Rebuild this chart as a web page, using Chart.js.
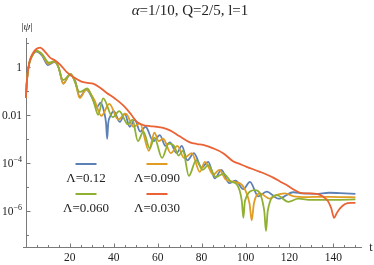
<!DOCTYPE html>
<html>
<head>
<meta charset="utf-8">
<script src="https://cdn.jsdelivr.net/npm/chart.js@4.4.0/dist/chart.umd.min.js"></script>
<style>
html, body { margin: 0; padding: 0; background: #fff; }
#wrap { width: 374px; height: 265px; position: relative; }
</style>
</head>
<body>
<div id="wrap"><canvas id="myChart"></canvas></div>
<script>
// values: t and log10|psi|
const tBlue = [0, 0.6, 1.5, 2.8, 4.8, 7.5, 10, 13, 15, 17, 20, 22.5, 24.5, 27.5, 30.5, 32.2, 34, 35.8, 36.5, 37, 37.5, 38.5, 40, 42.8, 45, 47.3, 49.6, 52, 54.5, 58, 61, 63.5, 65.6, 68.6, 71, 73.5, 76.5, 80, 83, 86, 89, 92.5, 95.5, 99, 102, 105.8, 109.6, 115, 121.7, 126, 132, 138, 143, 150];
const lgBlue = [-1.3, -0.45, 0.12, 0.45, 0.63, 0.45, 0.07, 0.2, -0.05, -0.7, -0.35, -0.6, -1.25, -0.95, -1.35, -1.7, -1.5, -1.95, -2.35, -3.0, -2.35, -2.05, -1.85, -2.3, -1.95, -2.5, -2.2, -2.7, -2.5, -3.1, -2.85, -3.3, -3.15, -3.6, -3.3, -3.9, -3.6, -4.2, -3.96, -4.65, -4.3, -4.85, -4.75, -5.1, -4.8, -5.4, -5.2, -5.5, -5.23, -5.28, -5.3, -5.25, -5.27, -5.3];

const tOrange = [0, 0.6, 1.5, 2.8, 5, 7.5, 10.3, 13, 15, 17, 20, 22.5, 24.5, 27.5, 31, 34.4, 38, 42, 45.5, 49, 51.9, 56, 58.5, 60.5, 62.5, 66, 69, 72, 75.5, 79.2, 81.5, 85.3, 88, 91, 95, 99, 101.8, 102.8, 103.8, 106.6, 111, 114, 117.9, 122, 128, 135, 142, 150];
const lgOrange = [-1.3, -0.45, 0.12, 0.45, 0.66, 0.5, 0.12, 0.22, -0.05, -0.7, -0.33, -0.65, -1.3, -0.95, -1.35, -2.05, -1.55, -2.2, -1.95, -2.5, -2.36, -3.5, -2.75, -3.1, -3.0, -3.6, -3.3, -3.8, -3.6, -4.38, -3.96, -4.5, -4.3, -4.7, -4.8, -5.0, -5.7, -6.4, -5.7, -5.28, -5.5, -5.35, -5.28, -5.4, -5.43, -5.42, -5.43, -5.44];

const tGreen = [0, 0.6, 1.5, 2.8, 5, 7.5, 10.5, 13.5, 17, 20.5, 24.5, 28, 31, 32.9, 35.2, 39.5, 42.5, 46.5, 48.5, 51, 53.5, 56.4, 58.5, 62, 65, 67.5, 69.5, 71.5, 74.2, 77.5, 80.5, 83, 86.5, 90, 93.5, 96, 98.3, 99, 99.7, 104.3, 108.5, 109.3, 110.1, 114.2, 119.5, 124, 130, 140, 150];
const lgGreen = [-1.3, -0.45, 0.12, 0.45, 0.66, 0.52, 0.17, 0.24, -0.55, -0.3, -1.05, -0.9, -1.5, -2.0, -1.32, -2.1, -1.85, -2.4, -2.2, -3.1, -2.7, -3.4, -2.95, -3.8, -3.2, -3.3, -3.7, -3.5, -4.55, -3.9, -4.3, -4.1, -4.6, -4.45, -4.8, -4.9, -5.6, -6.3, -5.6, -5.14, -6.0, -6.85, -6.0, -5.35, -5.63, -5.5, -5.55, -5.55, -5.53];

const tRed = [0, 0.6, 1.5, 2.8, 4.5, 6.5, 9, 11, 13, 15.5, 18.5, 22, 25.3, 28, 30.6, 33.5, 36.7, 40.5, 45, 48, 50.4, 53.4, 56.5, 59.5, 62.5, 65.6, 70, 74.7, 78, 80.7, 85.3, 89.8, 94.5, 96.7, 100.5, 106.6, 112.6, 116, 118.7, 122.5, 125.5, 129, 132.4, 135.4, 137.5, 139, 140.3, 141.5, 143, 145.3, 148, 150];
const lgRed = [-1.3, -0.45, 0.15, 0.5, 0.72, 0.8, 0.6, 0.38, 0.28, 0.1, -0.21, -0.45, -0.62, -0.67, -0.7, -0.85, -1.08, -1.32, -1.67, -2.0, -2.29, -2.43, -2.47, -2.5, -2.55, -2.65, -2.9, -3.15, -3.22, -3.26, -3.4, -3.6, -3.95, -4.03, -4.17, -4.38, -4.62, -4.8, -4.93, -5.15, -5.27, -5.28, -5.3, -5.42, -5.6, -5.9, -6.3, -6.1, -5.9, -5.72, -5.67, -5.67];

const seriesLabels = ["\u039b=0.12", "\u039b=0.090", "\u039b=0.060", "\u039b=0.030"];
const xMajor = [20, 40, 60, 80, 100, 120, 140];
const yTickValues = [1, 0.01, 1e-4, 1e-6];
// [base, exponent] pairs for the y tick labels
const yTickLabels = [["1", ""], ["0.01", ""], ["10", "\u22124"], ["10", "\u22126"]];
const yMinorValues = [10, 0.1, 1e-3, 1e-5, 1e-7];

const colors = ["#5E81B5", "#E19C24", "#8FB032", "#EB6235"];
const serif = '"Liberation Serif", "DejaVu Serif", serif';
const axisColor = "#7a7a7a";
const textColor = "#222";

const xMin = -1.3, xMax = 153;
const yMin = Math.pow(10, -7.5), yMax = Math.pow(10, 1.2);

function points(ts, lgs) {
    return ts.map((t, i) => ({ x: t, y: Math.pow(10, lgs[i]) }));
}

const xTickMarks = [];
for (let v = 5; v <= 150; v += 5) xTickMarks.push(v);

// axes with inward ticks, y labels with exponents, title, axis labels and the 2x2 legend
const decor = {
    id: "decor",
    beforeDatasetsDraw(chart) {
        const ctx = chart.ctx, xs = chart.scales.x, ys = chart.scales.y, a = chart.chartArea;
        const x0 = Math.round(xs.getPixelForValue(0)) + 0.5;
        const yb = Math.round(a.bottom) + 0.5;
        ctx.save();
        ctx.strokeStyle = axisColor;
        ctx.lineWidth = 1;
        ctx.beginPath();
        ctx.moveTo(a.left, yb); ctx.lineTo(a.right, yb);
        ctx.moveTo(x0, a.top); ctx.lineTo(x0, yb);
        xTickMarks.forEach(v => {
            const px = Math.round(xs.getPixelForValue(v)) + 0.5;
            const len = xMajor.includes(v) ? 4 : 2.5;
            ctx.moveTo(px, yb); ctx.lineTo(px, yb - len);
        });
        yTickValues.forEach(v => {
            const py = Math.round(ys.getPixelForValue(v)) + 0.5;
            ctx.moveTo(x0, py); ctx.lineTo(x0 + 4, py);
        });
        yMinorValues.forEach(v => {
            const py = Math.round(ys.getPixelForValue(v)) + 0.5;
            ctx.moveTo(x0, py); ctx.lineTo(x0 + 2.5, py);
        });
        ctx.stroke();

        // y tick labels, right aligned at x = 22
        ctx.fillStyle = textColor;
        ctx.textBaseline = "alphabetic";
        ctx.textAlign = "left";
        yTickValues.forEach((v, i) => {
            const py = ys.getPixelForValue(v);
            const base = yTickLabels[i][0], sup = yTickLabels[i][1];
            ctx.font = "11.5px " + serif;
            const wb = ctx.measureText(base).width;
            ctx.font = "8px " + serif;
            const ws = sup ? ctx.measureText(sup).width : 0;
            const left = 22 - wb - ws;
            ctx.font = "11.5px " + serif;
            ctx.fillText(base, left, py + 4);
            if (sup) {
                ctx.font = "8px " + serif;
                ctx.fillText(sup, left + wb, py - 0.5);
            }
        });
        ctx.restore();
    },
    afterDraw(chart) {
        const ctx = chart.ctx;
        ctx.save();
        ctx.fillStyle = textColor;
        ctx.textBaseline = "alphabetic";
        ctx.textAlign = "left";

        // title
        ctx.font = "italic 15px " + serif;
        const wa = ctx.measureText("\u03b1").width;
        ctx.font = "15px " + serif;
        const rest = "=1/10, Q=2/5, l=1";
        const wr = ctx.measureText(rest).width;
        let tx = 190 - (wa + wr) / 2;
        ctx.font = "italic 15px " + serif;
        ctx.fillText("\u03b1", tx, 15);
        ctx.font = "15px " + serif;
        ctx.fillText(rest, tx + wa, 15);

        // |psi| label
        ctx.font = "11px " + serif;
        const wb = ctx.measureText("|").width;
        ctx.font = "italic 11px " + serif;
        const wp = ctx.measureText("\u03c8").width;
        let lx = 27 - (2 * wb + wp) / 2;
        ctx.font = "11px " + serif;
        ctx.fillText("|", lx, 30);
        ctx.font = "italic 11px " + serif;
        ctx.fillText("\u03c8", lx + wb, 30);
        ctx.font = "11px " + serif;
        ctx.fillText("|", lx + wb + wp, 30);

        // t label
        ctx.font = "12px " + serif;
        ctx.textAlign = "center";
        ctx.fillText("t", 371, 251);

        // legend
        const cols = [86, 157], rows = [164, 194];
        ctx.font = "13px " + serif;
        chart.data.datasets.forEach((ds, i) => {
            const cx = cols[i % 2], sy = rows[Math.floor(i / 2)];
            ctx.strokeStyle = ds.borderColor;
            ctx.lineWidth = 2;
            ctx.beginPath();
            ctx.moveTo(cx - 10.5, sy); ctx.lineTo(cx + 10.5, sy);
            ctx.stroke();
            ctx.fillText(ds.label, cx, sy + 17.5);
        });
        ctx.restore();
    }
};

const series = [
    [tBlue, lgBlue], [tOrange, lgOrange], [tGreen, lgGreen], [tRed, lgRed]
];

new Chart(document.getElementById("myChart").getContext("2d"), {
    type: "line",
    data: {
        datasets: series.map((s, i) => ({
            label: seriesLabels[i],
            data: points(s[0], s[1]),
            borderColor: colors[i],
            borderWidth: 1.8,
            pointRadius: 0,
            fill: false,
            cubicInterpolationMode: "monotone",
            order: 4 - i
        }))
    },
    options: {
        responsive: true,
        maintainAspectRatio: false,
        animation: false,
        devicePixelRatio: 1,
        layout: { padding: { top: 38, right: 12, left: 0, bottom: 0 } },
        plugins: {
            legend: { display: false },
            tooltip: { enabled: false },
            title: { display: false }
        },
        scales: {
            x: {
                type: "linear",
                min: xMin,
                max: xMax,
                grid: { display: false, drawTicks: false },
                border: { display: false },
                ticks: {
                    autoSkip: false,
                    maxRotation: 0,
                    padding: 4,
                    color: textColor,
                    font: { family: serif, size: 11.5 },
                    callback: v => xMajor.includes(v) ? String(v) : ""
                },
                afterBuildTicks: s => {
                    s.min = xMin; s.max = xMax;
                    s.ticks = xTickMarks.map(v => ({ value: v }));
                },
                afterFit: s => { s.height = 18.3; }
            },
            y: {
                type: "logarithmic",
                min: yMin,
                max: yMax,
                grid: { display: false, drawTicks: false },
                border: { display: false },
                ticks: { display: false },
                afterBuildTicks: s => {
                    s.min = yMin; s.max = yMax;
                    s.ticks = yTickValues.map(v => ({ value: v }));
                },
                afterFit: s => { s.width = 23; }
            }
        }
    },
    plugins: [decor]
});
</script>
</body>
</html>
